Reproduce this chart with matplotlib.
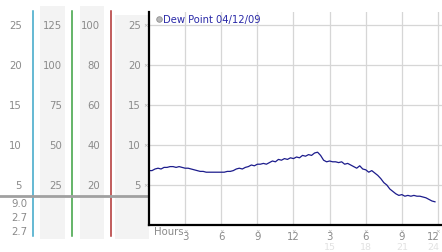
import numpy as np
import matplotlib
matplotlib.use("Agg")
import matplotlib.pyplot as plt

# dew point readings, every 15 minutes from midnight
hours = np.arange(96) * 0.25
dew_point = [
    6.8, 6.8, 7.0, 7.1,  7.0, 7.2, 7.2, 7.3,  7.3, 7.2, 7.3, 7.2,
    7.1, 7.1, 7.0, 6.9,  6.8, 6.7, 6.7, 6.6,  6.6, 6.6, 6.6, 6.6,
    6.6, 6.6, 6.7, 6.7,  6.8, 7.0, 7.1, 7.0,  7.2, 7.3, 7.5, 7.4,
    7.6, 7.6, 7.7, 7.6,  7.8, 8.0, 7.9, 8.2,  8.1, 8.3, 8.2, 8.4,
    8.3, 8.5, 8.4, 8.7,  8.6, 8.8, 8.7, 9.0,  9.1, 8.7, 8.1, 7.9,
    8.0, 7.9, 7.9, 7.8,  7.9, 7.6, 7.7, 7.5,  7.3, 7.1, 7.4, 7.0,
    6.9, 6.6, 6.8, 6.5,  6.2, 5.8, 5.3, 5.0,  4.5, 4.2, 3.9, 3.7,
    3.8, 3.6, 3.7, 3.6,  3.7, 3.6, 3.6, 3.5,  3.4, 3.2, 3.0, 2.9,
]

y_ticks = [5, 10, 15, 20, 25]
col_celsius = ["5", "10", "15", "20", "25"]
col_second = ["25", "50", "75", "100", "125"]
col_third = ["20", "40", "60", "80", "100"]
summary = ["9.0", "2.7", "2.7"]
x_ticks = [3, 6, 9, 12, 15, 18, 21, 24]
x_labels = ["3", "6", "9", "12", "3", "6", "9", "12"]
x_labels2 = ["15", "18", "21", "24"]

W, H = 442, 253
fig = plt.figure(figsize=(W / 100, H / 100), dpi=100)
fig.patch.set_facecolor("white")

grey = "#8a8a8a"
fs = 7.3

# pixel overlay for the left scale panel
bg = fig.add_axes([0, 0, 1, 1])
bg.set_xlim(0, W)
bg.set_ylim(H, 0)
bg.axis("off")

for x0, x1, y0 in [(40, 65, 7), (80, 104, 7), (115, 149, 16)]:
    bg.add_patch(plt.Rectangle((x0, y0), x1 - x0, 240 - y0, color="#f3f3f3", lw=0))

for x, c in [(33, "#3aa6c8"), (72, "#3aa040"), (111, "#b03030")]:
    bg.plot([x, x], [12, 237], color=c, lw=1.1)

bg.plot([0, 149], [197, 197], color="#a0a0a0", lw=2)

def y_px(v):
    return 226 - v * 8

for i, v in enumerate(y_ticks):
    yy = y_px(v)
    bg.text(22, yy, col_celsius[i], ha="right", va="center", color=grey, fontsize=fs)
    bg.text(62, yy, col_second[i], ha="right", va="center", color=grey, fontsize=fs)
    bg.text(100, yy, col_third[i], ha="right", va="center", color=grey, fontsize=fs)
    bg.text(141, yy, col_celsius[i], ha="right", va="center", color=grey, fontsize=fs)
    bg.text(146, yy, "×", ha="center", va="center", color="#a8a8a8", fontsize=4)

for i, s in enumerate(summary):
    bg.text(27, 204 + i * 14, s, ha="right", va="center", color=grey, fontsize=fs)

# main chart
ax = fig.add_axes([149 / W, 27 / H, (W - 149) / W, 213 / H])
ax.set_xlim(0, (W - 150) / 12)
ax.set_ylim(0, 213 / 8)
ax.plot(hours, dew_point, color="#1c1c8c", lw=0.9)

ax.set_yticks(y_ticks)
ax.set_xticks(x_ticks)
ax.grid(True, color="#d6d6d6", lw=0.9)
ax.tick_params(length=0, labelleft=False, labelbottom=False)
for s in ["top", "right"]:
    ax.spines[s].set_visible(False)
ax.spines["left"].set_linewidth(1.6)
ax.spines["bottom"].set_linewidth(1.6)

for xt, lab in zip(x_ticks, x_labels):
    last = xt == x_ticks[-1]
    ax.text(xt, -0.65, "×", ha="center", va="center", color="#a8a8a8", fontsize=4,
            clip_on=False)
    ax.text(xt + (0.1 if last else 0), -1.4, lab, ha="right" if last else "center",
            va="center", color=grey, fontsize=fs, clip_on=False)
for xt, lab in zip(x_ticks[4:], x_labels2):
    last = xt == x_ticks[-1]
    ax.text(xt + (0.1 if last else 0), -2.75, lab, ha="right" if last else "center",
            va="center", color="#e2e2e2", fontsize=6.8, clip_on=False)
ax.text(0.4, -0.8, "Hours", ha="left", va="center", color=grey, fontsize=fs,
        clip_on=False)

ax.plot([0.85], [25.8], "o", ms=4, mfc="#b8b8b8", mec="#909090", mew=0.6, clip_on=False)
ax.text(1.2, 25.8, "Dew Point 04/12/09", ha="left", va="center", color="#2a2aa8",
        fontsize=7.2, clip_on=False)

fig.savefig("out.png", dpi=100)
